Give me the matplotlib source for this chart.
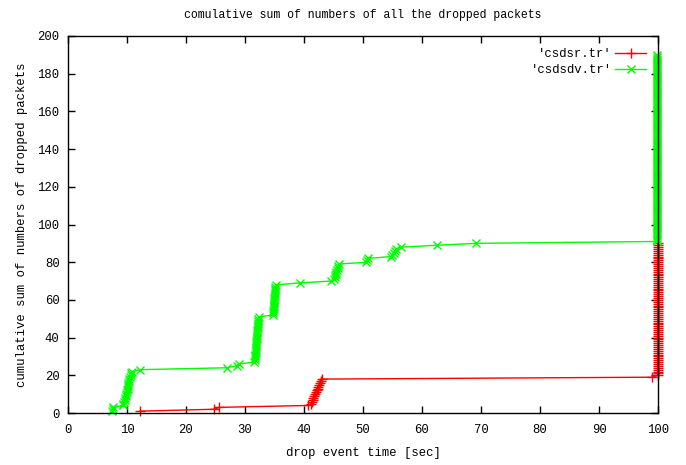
import matplotlib.pyplot as plt
import numpy as np

# drop event times [sec], one dropped packet per event
dsr_times = [12.2, 24.8, 25.6, 40.6,
             41.2, 41.35, 41.5, 41.6, 41.75, 41.9, 42.0, 42.15, 42.3, 42.45,
             42.6, 42.75, 42.9, 43.1,
             99.0] + [99.95] * 71

dsdv_times = [7.5, 7.6, 7.7,
              9.3, 9.4, 9.5, 9.6, 9.7, 9.8, 9.9, 10.0, 10.05, 10.1, 10.15,
              10.2, 10.25, 10.3, 10.4, 10.5, 10.6, 10.7, 10.8,
              12.2, 26.9, 28.6, 28.9, 31.6,
              31.7, 31.72, 31.75, 31.78, 31.8, 31.83, 31.85, 31.88, 31.9, 31.93,
              31.95, 31.98, 32.0, 32.03, 32.05, 32.08, 32.1, 32.13, 32.15, 32.18,
              32.2, 32.23, 32.25, 32.3,
              34.7,
              34.8, 34.82, 34.85, 34.87, 34.9, 34.92, 34.95, 34.97, 35.0, 35.02,
              35.05, 35.07, 35.1, 35.12, 35.15, 35.2,
              39.3, 44.6,
              45.1, 45.2, 45.3, 45.4, 45.5, 45.6, 45.7, 45.8, 45.9,
              50.5, 50.6, 50.8, 54.8, 55.0, 55.2, 55.4, 55.6,
              56.5, 62.5, 69.2] + [99.9] * 100

dsr_sum = np.cumsum(np.ones(len(dsr_times)))
dsdv_sum = np.cumsum(np.ones(len(dsdv_times)))

plt.rcParams['font.family'] = ['Liberation Mono', 'DejaVu Sans Mono']
plt.rcParams['font.size'] = 8.8

fig = plt.figure(figsize=(6.86, 4.65), dpi=100)
ax = fig.add_axes([0.0991, 0.1118, 0.8601, 0.8108])

ax.plot(dsr_times, dsr_sum, color='#ff0000', marker='+', markersize=7,
        linewidth=1, label="'csdsr.tr'", clip_on=False)
ax.plot(dsdv_times, dsdv_sum, color='#00ff00', marker='x', markersize=6,
        linewidth=1, label="'csdsdv.tr'", clip_on=False)

ax.set_xlim(0, 100)
ax.set_ylim(0, 200)
ax.set_xticks(np.arange(0, 101, 10))
ax.set_yticks(np.arange(0, 201, 20))
ax.tick_params(direction='in', top=True, right=True, length=5, width=1, pad=6)
ax.tick_params(axis='x', pad=8)
for s in ax.spines.values():
    s.set_linewidth(1)

ax.set_title('comulative sum of numbers of all the dropped packets',
             fontsize=8.3, pad=13)
ax.set_xlabel('drop event time [sec]', labelpad=8)
ax.set_ylabel('cumulative sum of numbers of dropped packets', labelpad=7)
ax.legend(loc='upper right', frameon=False, markerfirst=False,
          handlelength=2.5, borderaxespad=0.6, labelspacing=0.35,
          handletextpad=0.3)

fig.savefig('out.png')
